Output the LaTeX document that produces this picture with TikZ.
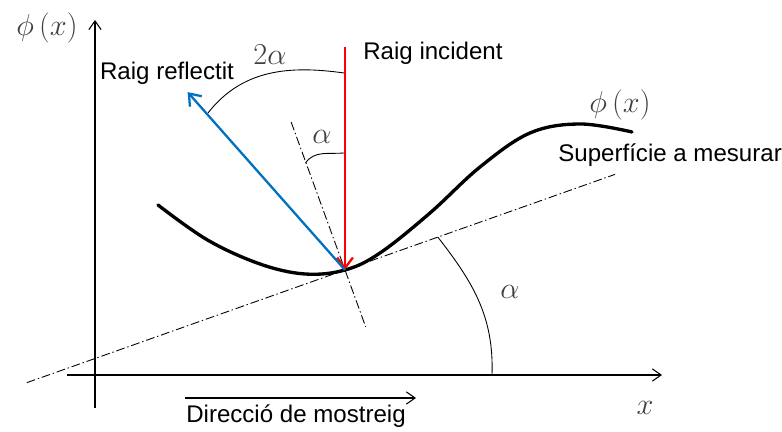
\documentclass[tikz,border=0pt]{standalone}
\usepackage{fontspec}
\setmainfont{Liberation Sans}
\usetikzlibrary{arrows.meta,calc}

\tikzset{
    axisline/.style={line width=0.6pt, -{Straight Barb[length=5pt,width=7pt]}},
    dashdot/.style={line width=0.5pt, dash pattern=on 5pt off 1.6pt on 0.8pt off 1.6pt},
    rayline/.style={line width=1.3pt, -{Straight Barb[length=6pt,width=9pt,line width=1.3pt]}},
    anglearc/.style={line width=0.5pt},
    txt/.style={font=\fontsize{13.7}{16}\selectfont, inner sep=0pt},
    mathlbl/.style={font=\fontsize{18}{21}\selectfont, text=black!75, inner sep=0pt}
}
\definecolor{rayred}{RGB}{255,0,0}
\definecolor{rayblue}{RGB}{0,112,192}

\begin{document}
\begin{tikzpicture}
    \useasboundingbox (-1.9,-1.14) rectangle (13.74,7.5);

    % Axes
    \coordinate (O) at (0,0);
    \coordinate (ybot) at (0,-0.66);
    \coordinate (ytop) at (0,7.1);
    \coordinate (xleft) at (-0.56,0);
    \coordinate (xright) at (11.34,0);
    \draw[axisline] (ybot) -- (ytop);
    \draw[axisline] (xleft) -- (xright);
    \node[mathlbl] (ylbl) at (-0.96,6.94) {$\phi\left(x\right)$};
    \node[mathlbl] (xlbl) at (11.0,-0.66) {$x$};

    % Contact point, tangent and normal
    \coordinate (P) at (5,2.1);
    \coordinate (tanlow) at ($(P)+(199.5:6.75)$);
    \coordinate (tanhigh) at ($(P)+(19.5:5.73)$);
    \coordinate (normtop) at ($(P)+(110:3.15)$);
    \coordinate (normbot) at ($(P)+(290:1.21)$);
    \draw[dashdot] (tanlow) -- (tanhigh);
    \draw[dashdot] (normtop) -- (normbot);

    % Surface
    \draw[line width=1.9pt, line cap=round] plot[smooth, tension=0.6] coordinates {
        (1.26,3.4) (2.25,2.7) (3.3,2.22) (4.2,2.02) (P) (5.7,2.44)
        (6.7,3.24) (7.7,4.16) (8.7,4.84) (9.7,5.02) (10.74,4.86)};
    \node[mathlbl] (surflbl) at (10.5,5.4) {$\phi\left(x\right)$};
    \node[txt, anchor=west] (surftxt) at (9.26,4.4) {Superfície a mesurar};

    % Rays
    \coordinate (inctop) at (5,6.56);
    \coordinate (refltip) at ($(P)+(131.5:4.75)$);
    \draw[rayline, rayred] (inctop) -- (P);
    \draw[rayline, rayblue] (P) -- (refltip);
    \node[txt, anchor=west] (inctxt) at (5.36,6.44) {Raig incident};
    \node[txt] (refltxt) at (1.44,6.04) {Raig reflectit};

    % Angles
    \coordinate (arcAa) at (2.26,5.24);
    \coordinate (arcAb) at (4.98,6.04);
    \draw[anglearc] (arcAa) to[out=52, in=172] (arcAb);
    \node[mathlbl] (twoalpha) at (3.5,6.4) {$2\alpha$};

    \coordinate (arcBa) at (4.21,4.24);
    \coordinate (arcBb) at (4.98,4.44);
    \draw[anglearc] (arcBa) to[out=55, in=185] (arcBb);
    \node[mathlbl] (alphatop) at (4.54,4.76) {$\alpha$};

    \coordinate (arcCa) at (7.94,0);
    \coordinate (arcCb) at ($(P)+(19.5:1.97)$);
    \draw[anglearc] (arcCa) to[out=88, in=-52] (arcCb);
    \node[mathlbl] (alphabot) at (8.3,1.66) {$\alpha$};

    % Sampling direction
    \coordinate (sampA) at (1.8,-0.46);
    \coordinate (sampB) at (6.42,-0.46);
    \draw[axisline] (sampA) -- (sampB);
    \node[txt] (samptxt) at (4.02,-0.82) {Direcció de mostreig};
\end{tikzpicture}
\end{document}
